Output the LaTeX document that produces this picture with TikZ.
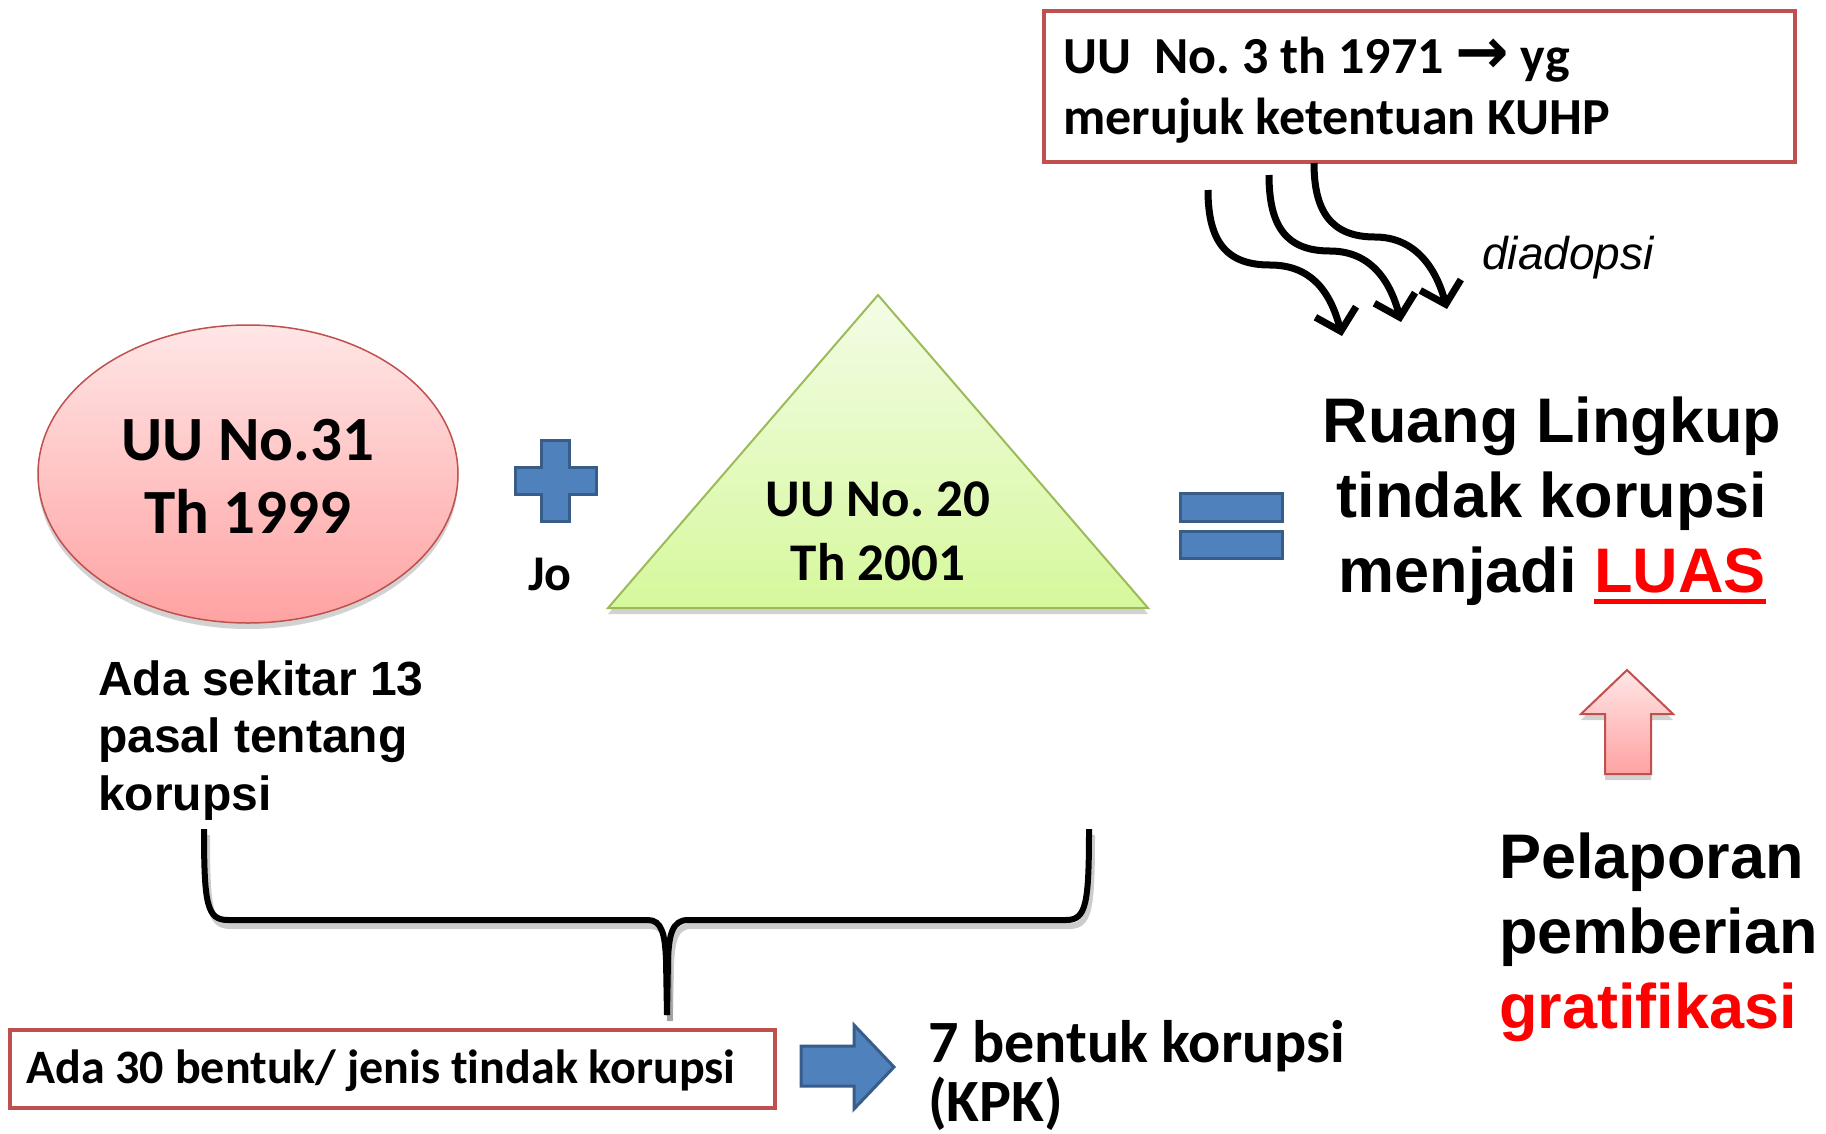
\documentclass[tikz,border=0pt]{standalone}
\usepackage{fontspec}
\setmainfont{Carlito}[Ligatures={NoCommon}]
\newfontfamily\arialf{Liberation Sans}
\newfontfamily\dejavuf{DejaVu Sans}
\usetikzlibrary{shapes.geometric,arrows.meta,shadows}

\definecolor{redbd}{HTML}{C0504D}
\definecolor{bluef}{HTML}{4F81BD}
\definecolor{bluebd}{HTML}{385D8A}
\definecolor{greenbd}{HTML}{9BBB59}
\definecolor{pinktop}{HTML}{FFE6E6}
\definecolor{pinkbot}{HTML}{FFA2A2}
\definecolor{greentop}{HTML}{F3FCE6}
\definecolor{greenbot}{HTML}{D6F89C}
\definecolor{brightred}{HTML}{FF0000}

\newcommand\myul[1]{\leavevmode\setbox0=\hbox{#1}\rlap{\rule[-12pt]{\wd0}{5pt}}\box0}

\begin{document}
\frenchspacing
\begin{tikzpicture}[x=1pt,y=-1pt,
  cal/.style 2 args={font=\bfseries\fontsize{#1}{#2}\selectfont, inner sep=0pt},
  ari/.style 2 args={font=\arialf\bfseries\fontsize{#1}{#2}\selectfont, inner sep=0pt},
  redbox/.style={draw=redbd, line width=4pt, fill=white, inner sep=0pt},
  bluest/.style={fill=bluef, draw=bluebd, line width=3pt},
  wavy/.style={line width=7pt, -{Straight Barb[length=20pt,width=42pt]}},
  softshadow/.style={drop shadow={shadow xshift=0pt, shadow yshift=-6pt, opacity=0.25, fill=black!70}}
]
\useasboundingbox (0,0) rectangle (1826,1133);
\fill[white] (0,0) rectangle (1826,1133);

% top box
\node[redbox, anchor=north west, minimum width=751pt, minimum height=151pt] (topbox) at (1042,9) {};
\node[cal={52}{61}, anchor=base west, align=left] (toptext) at (1063,134)
  {UU\ \ No. 3 th 1971 {\dejavuf\bfseries\fontsize{64}{61}\selectfont →} yg\\merujuk ketentuan KUHP};

% wavy arrows
\coordinate (a1s) at (1208,190);
\coordinate (a2s) at (1269,175);
\coordinate (a3s) at (1314,163);
\coordinate (a1e) at (1342,336);
\coordinate (a2e) at (1401,322);
\coordinate (a3e) at (1447,309);
\draw[wavy] (a1s) .. controls (1208,240) and (1225,265) .. (1270,265) .. controls (1310,265) and (1330,290) .. (a1e);
\draw[wavy] (a2s) .. controls (1269,225) and (1285,251) .. (1330,251) .. controls (1370,251) and (1390,280) .. (a2e);
\draw[wavy] (a3s) .. controls (1314,210) and (1330,237) .. (1375,237) .. controls (1415,237) and (1436,268) .. (a3e);
\node[font=\arialf\itshape\fontsize{46}{55}\selectfont, anchor=west, inner sep=0pt] (diadopsi) at (1482,258) {diadopsi};

% ellipse
\node[ellipse, draw=redbd, line width=1.5pt, top color=pinktop, bottom color=pinkbot,
  minimum width=420pt, minimum height=298pt, inner sep=0pt, softshadow] (uu31) at (248,474) {};
\node[cal={63}{73}, align=center, anchor=base] (uu31t) at (248,533) {UU No.31\\Th 1999};

% plus
\draw[bluest] (541,440) -- (569,440) -- (569,467) -- (596,467) -- (596,494) -- (569,494) -- (569,521) -- (541,521) -- (541,494) -- (515,494) -- (515,467) -- (541,467) -- cycle;
\node[cal={50}{60}, anchor=base] (jo) at (550,590) {Jo};

% triangle
\coordinate (tapex) at (878,295);
\coordinate (tleft) at (608,608);
\coordinate (tright) at (1148,608);
\draw[draw=greenbd, line width=2pt, top color=greentop, bottom color=greenbot, softshadow] (tapex) -- (tright) -- (tleft) -- cycle;
\node[cal={53}{64}, align=center, anchor=base] (uu20t) at (878,580) {UU No. 20\\Th 2001};

% equals
\draw[bluest] (1180,493) rectangle (1282,521);
\draw[bluest] (1180,531) rectangle (1282,558);

% Ruang lingkup
\node[ari={63}{75}, align=center, anchor=base] (ruang) at (1552,592)
  {Ruang Lingkup\\tindak korupsi\\menjadi {\color{brightred}\myul{LUAS}}};

% up arrow
\draw[draw=redbd, line width=2pt, top color=pinktop, bottom color=pinkbot, softshadow]
  (1627,670) -- (1673,714) -- (1651,714) -- (1651,774) -- (1605,774) -- (1605,714) -- (1581,714) -- cycle;

\node[ari={63}{75}, align=left, anchor=base west] (pelaporan) at (1499,1028)
  {Pelaporan\\pemberian\\{\color{brightred}gratifikasi}};

% Ada sekitar
\node[ari={48}{57.5}, align=left, anchor=base west] (sekitar) at (98,810)
  {Ada sekitar 13\\pasal tentang\\korupsi};

% brace
\coordinate (brl) at (204,829);
\coordinate (brr) at (1089,829);
\coordinate (brtip) at (667,1015);
\begin{scope}[shift={(3,6)}]
\draw[line width=6pt, black, opacity=0.2] (204,829) .. controls (204,905) and (207,920) .. (228,920) -- (648,920) .. controls (662,920) and (665,935) .. (666,960) -- (667,1015);
\draw[line width=6pt, black, opacity=0.2] (1089,829) .. controls (1089,905) and (1086,920) .. (1066,920) -- (688,920) .. controls (672,920) and (669,935) .. (668,960) -- (667,1015);
\end{scope}
\draw[line width=6pt] (brl) .. controls (204,905) and (207,920) .. (228,920) -- (648,920) .. controls (662,920) and (665,935) .. (666,960) -- (brtip);
\draw[line width=6pt] (brr) .. controls (1089,905) and (1086,920) .. (1066,920) -- (688,920) .. controls (672,920) and (669,935) .. (668,960) -- (brtip);

% bottom box
\node[redbox, anchor=north west, minimum width=765pt, minimum height=78pt] (botbox) at (8,1028) {};
\node[cal={48}{58}, anchor=base west] (bottext) at (26,1083) {Ada 30 bentuk/ jenis tindak korupsi};

% blue right arrow
\draw[bluest] (801,1046) -- (854,1046) -- (854,1025) -- (894,1067) -- (854,1109) -- (854,1086) -- (801,1086) -- cycle;

\node[cal={60}{59}, align=left, anchor=base west] (kpk) at (928,1121) {7 bentuk korupsi\\(KPK)};
\end{tikzpicture}
\end{document}
